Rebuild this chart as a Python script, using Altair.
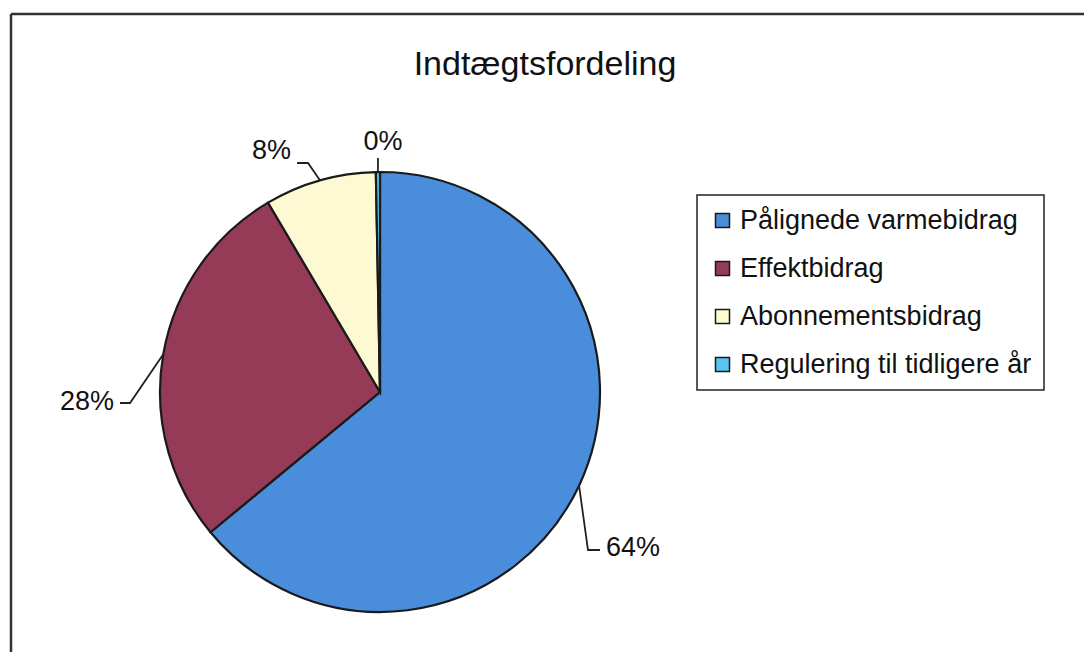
import altair as alt
import pandas as pd
import numpy as np

# ---- data ----
categories = ["Pålignede varmebidrag", "Effektbidrag", "Abonnementsbidrag", "Regulering til tidligere år"]
values = [64.0, 27.5, 8.2, 0.3]
labels = ["64%", "28%", "8%", "0%"]
colors = ["#4a8edb", "#953a57", "#fdf9d2", "#5cc4f0"]
title_text = "Indtægtsfordeling"

# ---- layout (pixels relative to pie centre, y up) ----
W, H = 1076, 644
CX, CY, R = 372, 384, 220
elbows = [[(208, -158), (220, -158)], [(-250, -11), (-260, -11)], [(-72, 229), (-83, 229)], [(-2, 234)]]
text_pos = [(226, -156), (-266, -10), (-89, 241), (3, 250)]
aligns = ["left", "right", "right", "center"]

df = pd.DataFrame({"cat": categories, "val": values, "idx": range(len(values)), "lab": labels})

# leader lines: start at the pie edge at each slice's mid angle
tot = sum(values)
cum = np.cumsum([0] + values)
rows = []
trows = []
for i, v in enumerate(values):
    mid = (cum[i] + v / 2) / tot * 2 * np.pi
    pts = [(np.sin(mid), np.cos(mid))] + [(a / R, b / R) for a, b in elbows[i]]
    for k, (px, py) in enumerate(pts):
        rows.append({"g": i, "k": k, "x": px, "y": py})
    trows.append({"lab": labels[i], "x": text_pos[i][0] / R, "y": text_pos[i][1] / R, "al": aligns[i]})
lines = pd.DataFrame(rows)
texts = pd.DataFrame(trows)

xs = alt.Scale(domain=[-CX / R, (W - CX) / R], nice=False, zero=False)
ys = alt.Scale(domain=[-(H - CY) / R, CY / R], nice=False, zero=False)

pie = alt.Chart(df).mark_arc(outerRadius=R, stroke="#1a1a1a", strokeWidth=2.2).encode(
    theta=alt.Theta("val:Q", stack=True),
    order=alt.Order("idx:Q"),
    color=alt.Color("cat:N", scale=alt.Scale(domain=categories, range=colors),
                    sort=categories,
                    legend=alt.Legend(title=None, orient="none", legendX=689, legendY=187,
                                      symbolType="square", symbolSize=196,
                                      symbolStrokeColor="#1a1a1a", symbolStrokeWidth=1.5,
                                      labelFontSize=27, labelFont="Liberation Sans",
                                      labelColor="#111", labelOffset=4, rowPadding=20,
                                      padding=12, strokeColor="#222", labelLimit=500)),
    x=alt.XDatum(0, scale=xs, axis=None),
    y=alt.YDatum(0, scale=ys, axis=None),
)

leaders = alt.Chart(lines).mark_line(color="#222", strokeWidth=1.8).encode(
    x=alt.X("x:Q", scale=xs, axis=None),
    y=alt.Y("y:Q", scale=ys, axis=None),
    detail="g:N",
    order="k:Q",
)

def lab_layer(al):
    return alt.Chart(texts).transform_filter(alt.datum.al == al).mark_text(
        align=al, baseline="middle", fontSize=27, font="Liberation Sans", color="#111"
    ).encode(
        x=alt.X("x:Q", scale=xs, axis=None),
        y=alt.Y("y:Q", scale=ys, axis=None),
        text="lab:N",
    )

title = alt.Chart(pd.DataFrame({"t": [title_text]})).mark_text(
    fontSize=34, font="Liberation Sans", color="#111", align="center", baseline="middle"
).encode(x=alt.value(537), y=alt.value(57), text="t:N")

frame_top = alt.Chart(pd.DataFrame({"a": [0]})).mark_rule(color="#333", strokeWidth=2.5).encode(
    x=alt.value(3), x2=alt.value(W), y=alt.value(6))
frame_left = alt.Chart(pd.DataFrame({"a": [0]})).mark_rule(color="#333", strokeWidth=2.5).encode(
    x=alt.value(3), y=alt.value(6), y2=alt.value(H))

chart = alt.layer(
    frame_top, frame_left, pie, leaders,
    lab_layer("left"), lab_layer("right"), lab_layer("center"), title
).properties(
    width=W, height=H, padding=0, autosize=alt.AutoSizeParams(type="none")
).configure_view(stroke=None).configure_legend(strokeWidth=1.5)

chart.save("out.html", embed_options={"renderer": "svg", "actions": False})
